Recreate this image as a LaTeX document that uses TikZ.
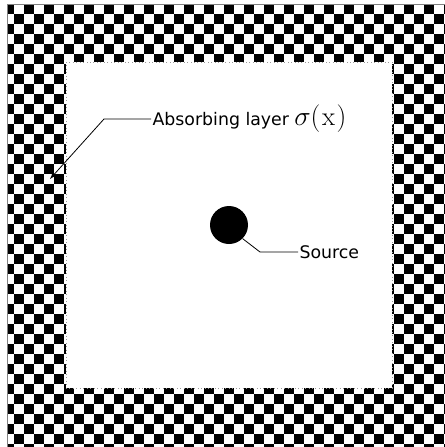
\documentclass[tikz,border=0pt]{standalone}
\usepackage{fontspec}
\newfontfamily\dejavu{DejaVu Sans}
\begin{document}
\begin{tikzpicture}[x=0.75pt, y=-0.75pt, font=\dejavu\fontsize{13}{15}\selectfont,
	lbl/.style={anchor=west, inner sep=1pt},
	lead/.style={line width=0.6pt}]
	\def\w{10}
	\useasboundingbox (0,0) rectangle (444,447);
	% Schachbrett
	\begin{scope}
		\clip (7,4) rectangle (452,448);
		\foreach \i in {0,...,44} {
			\foreach \j in {0,...,44} {
				\pgfmathtruncatemacro\cpar{mod(\i+\j,2)}
				\ifnum\cpar=0 \fill (4+\i*\w,4+\j*\w) rectangle ++(\w,\w); \fi
			}
		}
	\end{scope}
	\draw[black!50, line width=0.4pt] (7,4) rectangle (452,448);
	% Innenbereich
	\fill[white] (66,62) rectangle (392,388);
	\draw[black!40, dotted, line width=0.6pt] (66,62) rectangle (392,388);

	% Quelle
	\node[circle, fill=black, minimum size=28.5pt, inner sep=0pt] (src) at (229,225) {};
	\node[lbl] (srclbl) at (298,252) {Source};
	\coordinate (bendB) at (260,252);
	\draw[lead] (src.-45) -- (bendB) -- (srclbl.west);

	% Absorbierende Schicht
	\node[lbl] (absorb) at (151,119) {Absorbing layer\hspace{4pt}{\fontsize{20}{22}\selectfont$\sigma(\mkern1mu\mathrm{x}\mkern1mu)$}};
	\coordinate (bendA) at (104,119);
	\coordinate (tipA) at (50,179);
	\draw[lead, -latex] (absorb.west) -- (bendA) -- (tipA);
\end{tikzpicture}
\end{document}
